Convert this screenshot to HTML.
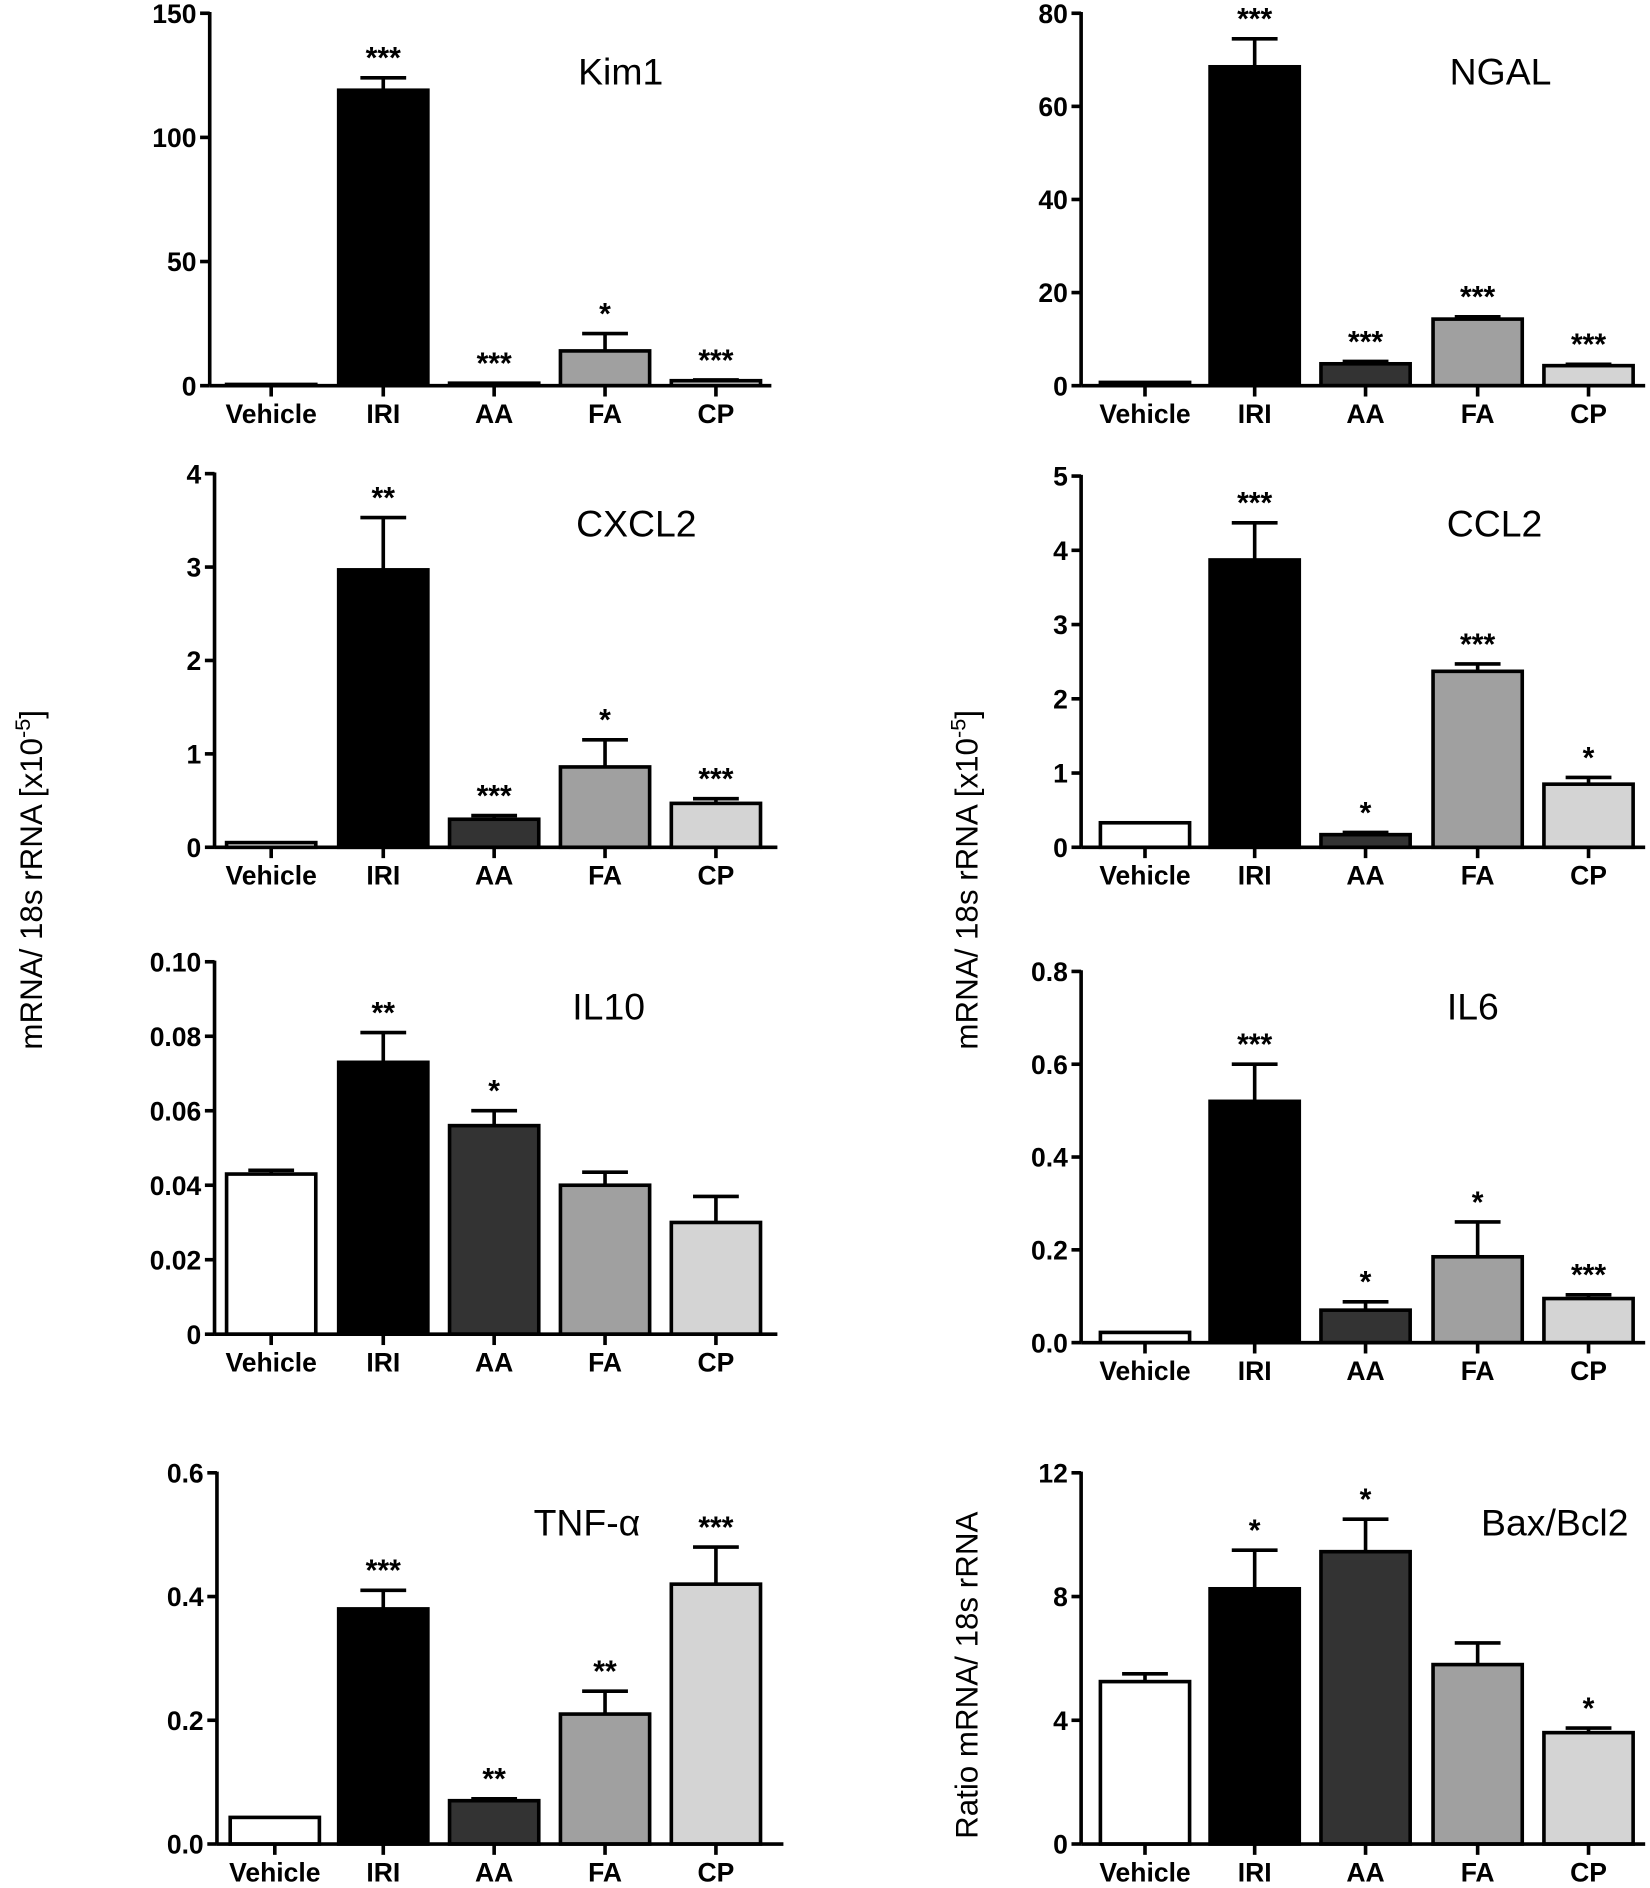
<!DOCTYPE html>
<html><head><meta charset="utf-8"><style>
html,body{margin:0;padding:0;background:#fff;}
svg{display:block;}
</style></head><body>
<svg id="s" width="1650" height="1888" viewBox="0 0 1369 1566.5" preserveAspectRatio="none" xmlns="http://www.w3.org/2000/svg"></svg>
<script>
var s=document.getElementById('s');var h='';
var fills=['#ffffff','#000000','#333333','#a0a0a0','#d4d4d4'];
var cats=['Vehicle','IRI','AA','FA','CP'];
function panel(o){
 var ax=o.ax,top=o.top,zero=o.zero,xend=o.xend,max=o.max;
 var sc=(zero-top)/max;
 function Y(v){return zero-v*sc;}
 for(var i=0;i<5;i++){
  var c=o.cx[i],w=74,v=o.v[i],e=o.e[i],y=Y(v);
  if(e>v){h+='<line x1="'+c+'" y1="'+y+'" x2="'+c+'" y2="'+Y(e)+'" stroke="#000" stroke-width="3"/>';
   h+='<line x1="'+(c-19)+'" y1="'+Y(e)+'" x2="'+(c+19)+'" y2="'+Y(e)+'" stroke="#000" stroke-width="3"/>';}
  h+='<rect x="'+(c-w/2)+'" y="'+y+'" width="'+w+'" height="'+Math.max(zero-y,0.5)+'" fill="'+fills[i]+'" stroke="#000" stroke-width="3"/>';
  if(o.st[i]){h+='<text x="'+c+'" y="'+(Y(e>v?e:v)-8)+'" font-size="25" font-weight="bold" text-anchor="middle" font-family="Liberation Sans,sans-serif">'+o.st[i]+'</text>';}
  h+='<line x1="'+c+'" y1="'+zero+'" x2="'+c+'" y2="'+(zero+9)+'" stroke="#000" stroke-width="3"/>';
  h+='<text x="'+c+'" y="'+(zero+31)+'" font-size="22" font-weight="bold" text-anchor="middle" font-family="Liberation Sans,sans-serif">'+cats[i]+'</text>';
 }
 h+='<line x1="'+ax+'" y1="'+(top-1)+'" x2="'+ax+'" y2="'+zero+'" stroke="#000" stroke-width="3"/>';
 h+='<line x1="'+ax+'" y1="'+zero+'" x2="'+xend+'" y2="'+zero+'" stroke="#000" stroke-width="3"/>';
 for(var k=0;k<o.ticks.length;k++){var t=o.ticks[k],yy=Y(t[0]);
  h+='<line x1="'+(ax-8)+'" y1="'+yy+'" x2="'+ax+'" y2="'+yy+'" stroke="#000" stroke-width="3"/>';
  h+='<text x="'+(ax-11)+'" y="'+(yy+8)+'" font-size="22" font-weight="bold" text-anchor="end" font-family="Liberation Sans,sans-serif">'+t[1]+'</text>';}
 h+='<text x="'+o.tx+'" y="'+o.ty+'" font-size="31" text-anchor="middle" font-family="Liberation Sans,sans-serif">'+o.title+'</text>';
}
var L=[225,318,410,502,594],R=[950,1041,1133,1226,1318];
panel({ax:174,top:11,zero:320,xend:640,max:150,cx:L,v:[0.5,119,1,14,2],e:[0.5,124,1,21,2.3],st:['','***','***','*','***'],ticks:[[0,'0'],[50,'50'],[100,'100'],[150,'150']],title:'Kim1',tx:515,ty:70});
panel({ax:897,top:11,zero:320,xend:1365,max:80,cx:R,v:[0.7,68.5,4.7,14.3,4.3],e:[0.7,74.5,5.2,14.8,4.6],st:['','***','***','***','***'],ticks:[[0,'0'],[20,'20'],[40,'40'],[60,'60'],[80,'80']],title:'NGAL',tx:1245,ty:70});
panel({ax:178,top:393,zero:703,xend:645,max:4,cx:L,v:[0.05,2.97,0.3,0.86,0.47],e:[0.05,3.53,0.34,1.15,0.52],st:['','**','***','*','***'],ticks:[[0,'0'],[1,'1'],[2,'2'],[3,'3'],[4,'4']],title:'CXCL2',tx:528,ty:445});
panel({ax:897,top:395,zero:703,xend:1365,max:5,cx:R,v:[0.33,3.87,0.17,2.37,0.85],e:[0.33,4.37,0.2,2.47,0.94],st:['','***','*','***','*'],ticks:[[0,'0'],[1,'1'],[2,'2'],[3,'3'],[4,'4'],[5,'5']],title:'CCL2',tx:1240,ty:445});
panel({ax:178,top:798,zero:1107,xend:645,max:0.1,cx:L,v:[0.043,0.073,0.056,0.040,0.030],e:[0.044,0.081,0.060,0.0435,0.037],st:['','**','*','',''],ticks:[[0,'0'],[0.02,'0.02'],[0.04,'0.04'],[0.06,'0.06'],[0.08,'0.08'],[0.1,'0.10']],title:'IL10',tx:505,ty:846});
panel({ax:897,top:806,zero:1114,xend:1365,max:0.8,cx:R,v:[0.022,0.52,0.07,0.185,0.095],e:[0.022,0.60,0.088,0.26,0.103],st:['','***','*','*','***'],ticks:[[0,'0.0'],[0.2,'0.2'],[0.4,'0.4'],[0.6,'0.6'],[0.8,'0.8']],title:'IL6',tx:1222,ty:846});
panel({ax:180,top:1222,zero:1530,xend:650,max:0.6,cx:[228,318,410,502,594],v:[0.043,0.38,0.07,0.21,0.42],e:[0.043,0.41,0.073,0.247,0.48],st:['','***','**','**','***'],ticks:[[0,'0.0'],[0.2,'0.2'],[0.4,'0.4'],[0.6,'0.6']],title:'TNF-α',tx:487,ty:1274});
panel({ax:897,top:1222,zero:1530,xend:1365,max:12,cx:R,v:[5.25,8.25,9.45,5.8,3.6],e:[5.5,9.5,10.5,6.5,3.75],st:['','*','*','','*'],ticks:[[0,'0'],[4,'4'],[8,'8'],[12,'12']],title:'Bax/Bcl2',tx:1290,ty:1274});
function ylab(x,y,t){h+='<text transform="translate('+x+','+y+') rotate(-90)" font-size="26" text-anchor="middle" font-family="Liberation Sans,sans-serif">'+t+'</text>';}
ylab(35,730,'mRNA/ 18s rRNA  [x10<tspan dy="-10" font-size="18">-5</tspan><tspan dy="10">]</tspan>');
ylab(811,730,'mRNA/ 18s rRNA  [x10<tspan dy="-10" font-size="18">-5</tspan><tspan dy="10">]</tspan>');
ylab(811,1390,'Ratio mRNA/ 18s rRNA');
s.innerHTML=h;
</script>
</body></html>
